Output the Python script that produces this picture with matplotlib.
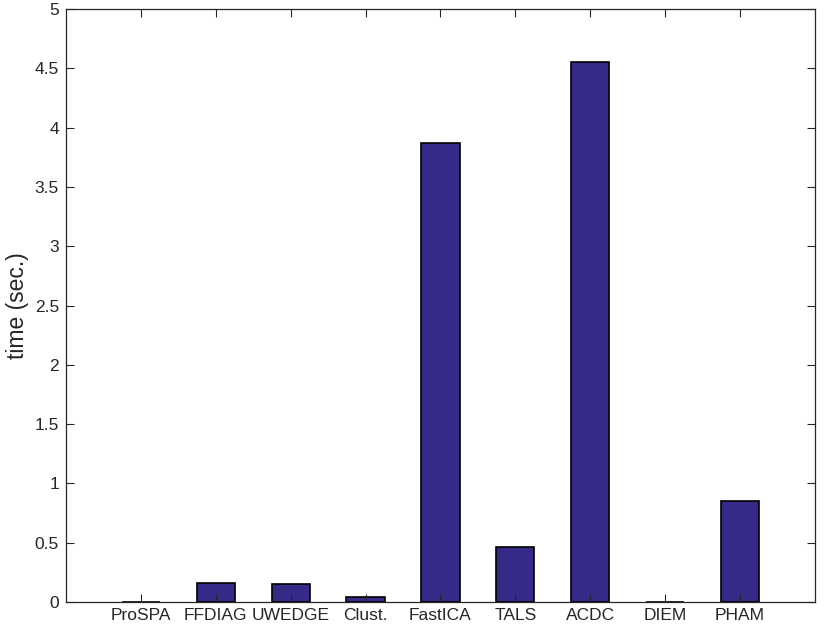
import matplotlib
matplotlib.use("Agg")
import matplotlib.pyplot as plt
import numpy as np

methods = ["ProSPA", "FFDIAG", "UWEDGE", "Clust.", "FastICA", "TALS", "ACDC", "DIEM", "PHAM"]
times = [0.002, 0.163, 0.149, 0.04, 3.87, 0.466, 4.55, 0.002, 0.855]
yticks = [0, 0.5, 1, 1.5, 2, 2.5, 3, 3.5, 4, 4.5, 5]
ytick_labels = ["0", "0.5", "1", "1.5", "2", "2.5", "3", "3.5", "4", "4.5", "5"]

plt.rcParams['font.family'] = ['Liberation Sans', 'DejaVu Sans']

fig = plt.figure(figsize=(8.31, 6.38), dpi=100)
ax = fig.add_axes([0.0794, 0.0564, 0.9013, 0.9295])

x = np.arange(1, len(methods) + 1)
ax.bar(x, times, width=0.51, color="#352A87", edgecolor="black", linewidth=1.2, zorder=1)

ax.set_xlim(0, 10)
ax.set_ylim(0, 5)
ax.set_xticks(x)
ax.set_xticklabels(methods)
ax.set_yticks(yticks)
ax.set_yticklabels(ytick_labels)
ax.set_ylabel("time (sec.)", fontsize=16.5, color="#262626")
ax.yaxis.set_label_coords(-0.049, 0.5)

ax.tick_params(direction="in", top=True, right=True, length=6, width=0.8,
               color="#262626", labelsize=12.5, labelcolor="#262626", zorder=3)
ax.tick_params(axis="x", pad=4)
ax.tick_params(axis="y", pad=5)
for s in ax.spines.values():
    s.set_color("#262626")
    s.set_linewidth(0.9)
    s.set_zorder(3)

fig.savefig("out.png", dpi=100)
